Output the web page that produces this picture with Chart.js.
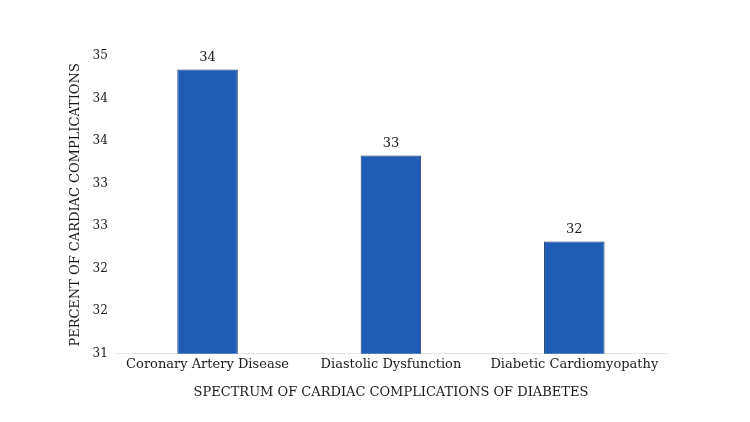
<!DOCTYPE html>
<html>
<head>
<meta charset="utf-8">
<script src="https://cdn.jsdelivr.net/npm/chart.js@4.4.1/dist/chart.umd.min.js"></script>
<style>
  html, body { margin: 0; padding: 0; background: #fff; }
  #wrap { width: 750px; height: 422px; }
</style>
</head>
<body>
<div id="wrap"><canvas id="myBarGraph"></canvas></div>
<script>
const categories = ["Coronary Artery Disease", "Diastolic Dysfunction", "Diabetic Cardiomyopathy"];
const values = [34.34, 33.33, 32.32];
const yTitle = "PERCENT OF CARDIAC COMPLICATIONS";
const xTitle = "SPECTRUM OF CARDIAC COMPLICATIONS OF DIABETES";

const fontFamily = "'DejaVu Serif', serif";

// draws the value above each bar
const barLabels = {
    id: "barLabels",
    afterDatasetsDraw(chart) {
        const ctx = chart.ctx;
        const meta = chart.getDatasetMeta(0);
        ctx.save();
        ctx.font = "13px " + fontFamily;
        ctx.fillStyle = "#1a1a1a";
        ctx.textAlign = "center";
        ctx.textBaseline = "bottom";
        meta.data.forEach((bar, i) => {
            ctx.fillText(Math.round(values[i]), bar.x, bar.y - 5);
        });
        ctx.restore();
    }
};

new Chart("myBarGraph", {
    type: "bar",
    data: {
        labels: categories,
        datasets: [{
            data: values,
            backgroundColor: "#1f5cb6",
            borderColor: "#1b3766",
            borderWidth: 1,
            barPercentage: 0.33,
            categoryPercentage: 1
        }]
    },
    options: {
        responsive: true,
        maintainAspectRatio: false,
        animation: false,
        layout: { padding: { top: 56, right: 84, bottom: 18, left: 64 } },
        plugins: {
            legend: { display: false },
            tooltip: { enabled: false }
        },
        scales: {
            x: {
                grid: { display: false, drawTicks: false },
                border: { display: true, color: "#e6e6e6" },
                ticks: { color: "#1a1a1a", font: { family: fontFamily, size: 13 }, padding: 3 },
                title: {
                    display: true,
                    text: xTitle,
                    color: "#1a1a1a",
                    font: { family: fontFamily, size: 13 },
                    padding: { top: 9 }
                }
            },
            y: {
                min: 31,
                max: 34.5,
                grid: { display: false, drawTicks: false },
                border: { display: false },
                ticks: {
                    stepSize: 0.5,
                    color: "#1a1a1a",
                    font: { family: fontFamily, size: 12 },
                    padding: 8,
                    callback: (v) => Math.round(v)
                },
                title: {
                    display: true,
                    text: yTitle,
                    color: "#1a1a1a",
                    font: { family: fontFamily, size: 13 },
                    padding: { bottom: 1 }
                }
            }
        }
    },
    plugins: [barLabels]
});
</script>
</body>
</html>
